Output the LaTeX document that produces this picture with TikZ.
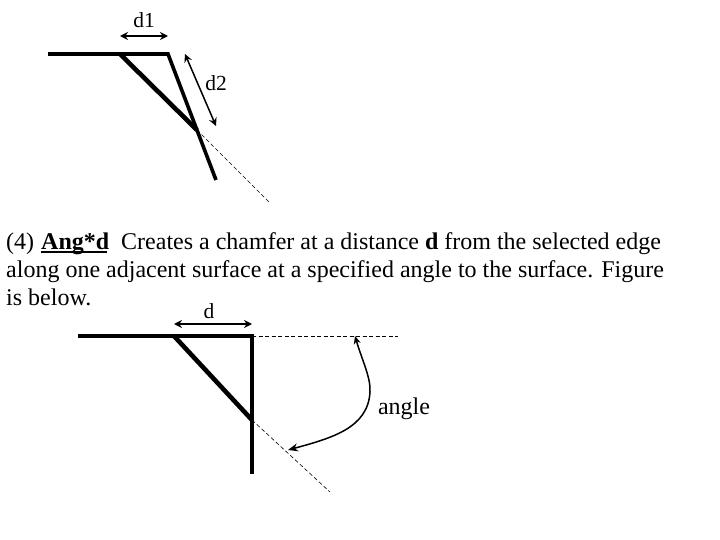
\documentclass[tikz,border=0pt]{standalone}
\usepackage{fontspec}
\setmainfont{Liberation Serif}
\usetikzlibrary{arrows.meta}
\tikzset{
  wall/.style={line width=3.6pt},
  chamfer/.style={line width=4.6pt},
  guide/.style={line width=0.6pt, dash pattern=on 4pt off 2.5pt},
  dim/.style={line width=1.5pt, {Stealth[length=8pt,width=8pt]}-{Stealth[length=8pt,width=8pt]}},
  lab/.style={inner sep=0pt, font=\fontsize{21.5}{24}\selectfont},
  body/.style={inner sep=0pt, anchor=base west, font=\fontsize{24}{28}\selectfont}
}
\begin{document}
\begin{tikzpicture}[x=1pt,y=-1pt]
      \useasboundingbox (0,0) rectangle (720,540);

      % upper figure
      \coordinate (a0) at (48,54);
      \coordinate (a1) at (120,54);
      \coordinate (a2) at (168,54);
      \coordinate (a3) at (197,130);
      \coordinate (a4) at (216,180);
      \coordinate (a5) at (270,203);
      \draw[wall] (a0) -- (a2) -- (a4);
      \draw[chamfer] (a1) -- (a3);
      \draw[guide] (a3) -- (a5);

      \coordinate (d1l) at (120,36);
      \coordinate (d1r) at (168,36);
      \draw[dim] (d1l) -- (d1r);
      \node[lab] (d1) at (144,20) {d1};
      \coordinate (d2t) at (185,54);
      \coordinate (d2b) at (216,126);
      \draw[dim] (d2t) -- (d2b);
      \node[lab] (d2) at (216,83) {d2};

      % text
      \node[body] (line1) at (6,249) {(4)\kern7pt\rlap{\rule[-4pt]{66pt}{1.8pt}}\textbf{Ang*d}\kern12pt Creates a chamfer at a distance \textbf{d} from the selected edge};
      \node[body] (line2) at (6,277) {along one adjacent surface at a specified angle to the surface. Figure};
      \node[body] (line3) at (6,305) {is below.};

      % lower figure
      \coordinate (b0) at (78,336);
      \coordinate (b1) at (174,336);
      \coordinate (b2) at (252,336);
      \coordinate (b3) at (252,420);
      \coordinate (b4) at (252,474);
      \coordinate (b5) at (398,336);
      \coordinate (b6) at (330,492);
      \draw[wall] (b0) -- (b2) -- (b4);
      \draw[chamfer] (b1) -- (b3);
      \draw[guide] (b2) -- (b5);
      \draw[guide] (b3) -- (b6);

      \coordinate (dl) at (174,324);
      \coordinate (dr) at (252,324);
      \draw[dim] (dl) -- (dr);
      \node[lab] (d) at (209,311) {d};

      \coordinate (ang1) at (355,336);
      \coordinate (ang2) at (288,450);
      \draw[line width=1.5pt, {Stealth[length=8pt,width=7pt]}-{Stealth[length=10pt,width=8pt]}] (ang1) .. controls (362,360) and (371,378) .. (370,392) .. controls (368,428) and (332,438) .. (ang2);
      \node[body, anchor=center] (angle) at (404,409) {angle};
\end{tikzpicture}
\end{document}
